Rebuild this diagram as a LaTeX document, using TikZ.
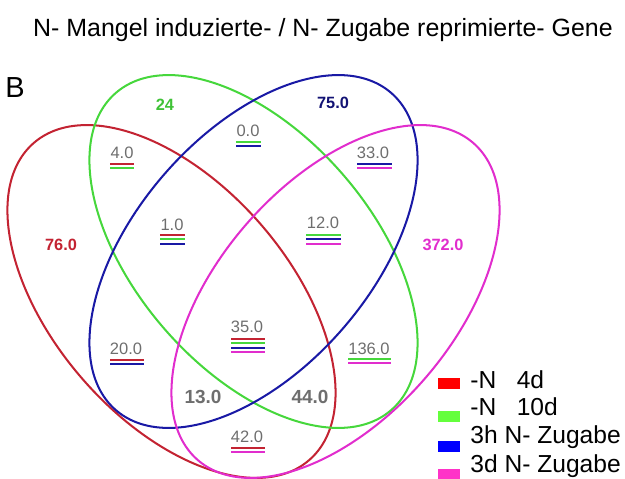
\documentclass[tikz,border=0pt]{standalone}
\usepackage{fontspec}
\setmainfont{Liberation Sans}
\definecolor{setred}{RGB}{195,35,50}
\definecolor{setgreen}{RGB}{70,215,60}
\definecolor{setblue}{RGB}{25,25,165}
\definecolor{setmag}{RGB}{225,45,205}
\definecolor{cntgray}{RGB}{110,110,110}
\definecolor{keyred}{RGB}{255,0,0}
\definecolor{keygreen}{RGB}{100,255,60}
\definecolor{keyblue}{RGB}{0,0,255}
\definecolor{keymag}{RGB}{255,50,200}
\tikzset{
  venn/.style={line width=1.15pt},
  uline/.style={line width=1.1pt},
  cnt/.style={text=cntgray, inner sep=0pt, font=\fontsize{9.4}{11}\selectfont},
  bigcnt/.style={text=cntgray, inner sep=0pt, font=\fontsize{10.8}{12}\selectfont\bfseries},
  solo/.style={inner sep=0pt, font=\fontsize{9.3}{11}\selectfont\bfseries},
  keybox/.style={inner sep=0pt, minimum width=0.44cm, minimum height=0.22cm},
  keytext/.style={anchor=base west, inner sep=0pt, font=\fontsize{14}{16}\selectfont},
}
\begin{document}
\begin{tikzpicture}[x=0.02cm, y=-0.02cm]
\useasboundingbox (0,0) rectangle (625,479);
\node[anchor=base, inner sep=0pt, font=\fontsize{14.2}{16}\selectfont] (title) at (323,37) {N- Mangel induzierte- / N- Zugabe reprimierte- Gene};
\node[inner sep=0pt, font=\fontsize{16.5}{18}\selectfont] (panel) at (15,88) {B};
% sets
\coordinate (cred) at (171.5,301.5);
\coordinate (cgreen) at (253.5,251.5);
\coordinate (cblue) at (253.5,251.5);
\coordinate (cmag) at (335.5,301.5);
\draw[venn, setred, rotate around={-49:(cred)}] (cred) ellipse [x radius=210, y radius=118];
\draw[venn, setgreen, rotate around={-49:(cgreen)}] (cgreen) ellipse [x radius=210, y radius=118];
\draw[venn, setblue, rotate around={49:(cblue)}] (cblue) ellipse [x radius=210, y radius=118];
\draw[venn, setmag, rotate around={49:(cmag)}] (cmag) ellipse [x radius=210, y radius=118];
% only one set
\node[solo, text=setred] (n76) at (61,245) {76.0};
\node[solo, text=setgreen!90!black] (n24) at (165,105) {24};
\node[solo, text=setblue!70!black] (n75) at (333,103) {75.0};
\node[solo, text=setmag] (n372) at (443,245) {372.0};
% overlaps
\node[cnt] (n4) at (122,153) {4.0};
\node[cnt] (n0) at (248,131) {0.0};
\node[cnt] (n1) at (172,225) {1.0};
\node[cnt] (n33) at (373,153) {33.0};
\node[cnt] (n12) at (323,223) {12.0};
\node[cnt] (n20) at (126,349) {20.0};
\node[cnt] (n35) at (247,327) {35.0};
\node[cnt] (n42) at (247,437) {42.0};
\node[cnt] (n136) at (369,349) {136.0};
\node[bigcnt] (n13) at (203,397) {13.0};
\node[bigcnt] (n44) at (310,397) {44.0};
\foreach \c [count=\i] in {setred,setgreen}
  \draw[uline,\c] (110,159.7+4.3*\i) -- (134,159.7+4.3*\i);
\foreach \c [count=\i] in {setgreen,setblue}
  \draw[uline,\c] (236,137.7+4.3*\i) -- (261,137.7+4.3*\i);
\foreach \c [count=\i] in {setred,setgreen,setblue}
  \draw[uline,\c] (160,230.7+4.3*\i) -- (185,230.7+4.3*\i);
\foreach \c [count=\i] in {setblue,setmag}
  \draw[uline,\c] (357,159.7+4.3*\i) -- (392,159.7+4.3*\i);
\foreach \c [count=\i] in {setgreen,setblue,setmag}
  \draw[uline,\c] (306,230.7+4.3*\i) -- (341,230.7+4.3*\i);
\foreach \c [count=\i] in {setred,setblue}
  \draw[uline,\c] (110,355.7+4.3*\i) -- (144,355.7+4.3*\i);
\foreach \c [count=\i] in {setred,setgreen,setblue,setmag}
  \draw[uline,\c] (231,334.7+4.3*\i) -- (265,334.7+4.3*\i);
\foreach \c [count=\i] in {setred,setmag}
  \draw[uline,\c] (231,443.7+4.3*\i) -- (265,443.7+4.3*\i);
\foreach \c [count=\i] in {setgreen,setmag}
  \draw[uline,\c] (348,354.7+4.3*\i) -- (391,354.7+4.3*\i);
% legend
\node[keybox, fill=keyred] (kred) at (449,383.5) {};
\node[keybox, fill=keygreen] (kgreen) at (449,416) {};
\node[keybox, fill=keyblue] (kblue) at (449,446) {};
\node[keybox, fill=keymag] (kmag) at (449,474) {};
\node[keytext] (tred) at (470,388) {-N\ \ \ 4d};
\node[keytext] (tgreen) at (470,415) {-N\ \ \ 10d};
\node[keytext] (tblue) at (470,443) {3h N- Zugabe};
\node[keytext] (tmag) at (470,472) {3d N- Zugabe};
\end{tikzpicture}
\end{document}
